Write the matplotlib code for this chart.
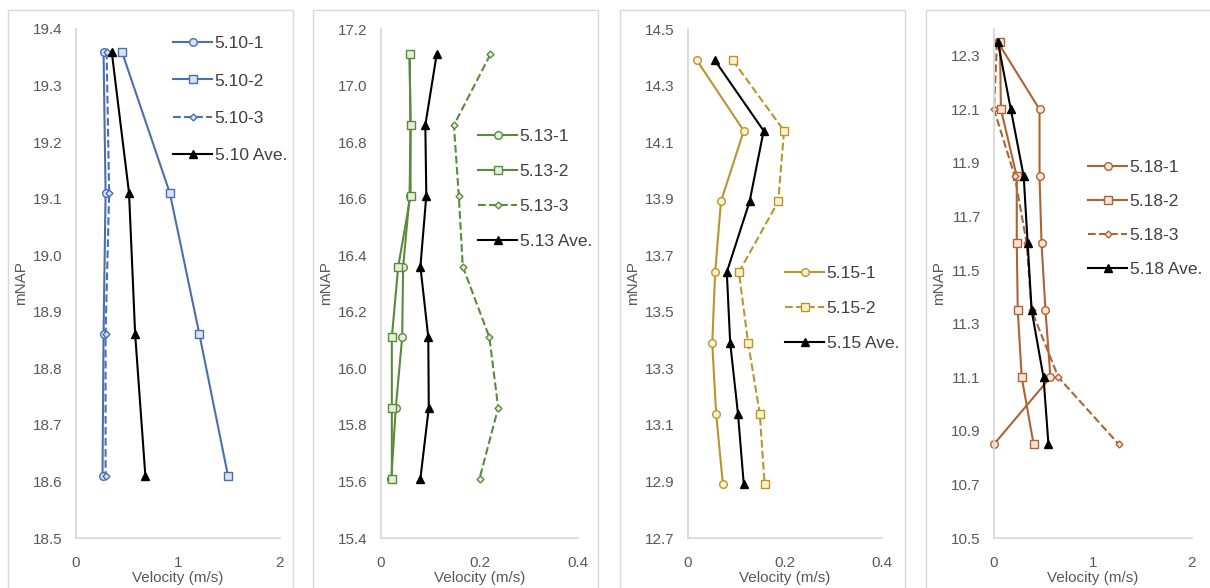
import numpy as np
import matplotlib.pyplot as plt
from matplotlib.patches import Rectangle

plt.rcParams['font.family'] = ['Liberation Sans', 'DejaVu Sans']

# depth levels (mNAP) for each section
y_510 = [19.36, 19.11, 18.86, 18.61]
y_513 = [17.11, 16.86, 16.61, 16.36, 16.11, 15.86, 15.61]
y_515 = [14.39, 14.14, 13.89, 13.64, 13.39, 13.14, 12.89]
y_518 = [12.35, 12.10, 11.85, 11.60, 11.35, 11.10, 10.85]

# velocities (m/s)
v_510_1 = [0.27, 0.29, 0.27, 0.26]
v_510_2 = [0.45, 0.92, 1.21, 1.49]
v_510_3 = [0.30, 0.325, 0.29, 0.29]
v_510_ave = [0.35, 0.52, 0.58, 0.68]

v_513_1 = [0.058, 0.060, 0.058, 0.045, 0.043, 0.030, 0.021]
v_513_2 = [0.058, 0.060, 0.060, 0.035, 0.022, 0.022, 0.022]
v_513_3 = [0.222, 0.148, 0.158, 0.166, 0.220, 0.238, 0.200]
v_513_ave = [0.113, 0.090, 0.092, 0.080, 0.096, 0.097, 0.080]

v_515_1 = [0.018, 0.115, 0.068, 0.056, 0.050, 0.058, 0.072]
v_515_2 = [0.092, 0.198, 0.186, 0.105, 0.124, 0.148, 0.158]
v_515_ave = [0.055, 0.156, 0.127, 0.080, 0.087, 0.103, 0.115]

v_518_1 = [0.04, 0.46, 0.46, 0.48, 0.52, 0.57, 0.0]
v_518_2 = [0.06, 0.07, 0.23, 0.23, 0.24, 0.28, 0.40]
v_518_3 = [0.03, 0.0, 0.21, 0.33, 0.38, 0.65, 1.26]
v_518_ave = [0.04, 0.17, 0.30, 0.34, 0.38, 0.50, 0.55]

W, H = 1210, 588
fig = plt.figure(figsize=(W / 100, H / 100), dpi=100)

TXT = '#595959'
GRID = '#d9d9d9'


def px_axes(l, t, r, b):
    return fig.add_axes([l / W, 1 - b / H, (r - l) / W, (b - t) / H])


def frame(l, r):
    fig.patches.append(Rectangle((l / W, -0.01), (r - l) / W, 1 - 10 / H + 0.01,
                                 transform=fig.transFigure, fill=False,
                                 edgecolor=GRID, lw=1.0))


def style(ax, xlim, xticks, xfmt, ylim, yticks):
    ax.set_xlim(*xlim)
    ax.set_ylim(*ylim)
    ax.set_xticks(xticks)
    ax.set_xticklabels([xfmt(v) for v in xticks])
    ax.set_yticks(yticks)
    ax.set_yticklabels(['%.1f' % v for v in yticks])
    for s in ['top', 'right']:
        ax.spines[s].set_visible(False)
    for s in ['left', 'bottom']:
        ax.spines[s].set_color(GRID)
        ax.spines[s].set_linewidth(1.3)
    ax.tick_params(length=0, labelsize=11, colors=TXT)
    ax.tick_params(axis='x', pad=13)
    ax.tick_params(axis='y', pad=9.5)
    ax.set_xlabel('Velocity (m/s)', fontsize=11, color=TXT, labelpad=1)
    ax.set_ylabel('mNAP', fontsize=11, color=TXT, labelpad=4)
    ax.patch.set_alpha(0)


def series(ax, x, y, color, face, marker, ms, ls, label):
    ax.plot(x, y, ls, color=color, lw=1.5, marker=marker, ms=ms,
            mfc=face, mec=color, mew=1.0, label=label, clip_on=False)


def legend(ax, left, top, spacing):
    ax.legend(loc='upper left', bbox_to_anchor=(left / W, 1 - top / H),
              bbox_transform=fig.transFigure, frameon=False, fontsize=12.5,
              handlelength=2.25, handletextpad=0.15, labelspacing=spacing,
              labelcolor='#404040', borderaxespad=0, borderpad=0)


fmt_int = lambda v: '%d' % v
fmt_01 = lambda v: '0' if v == 0 else '%.1f' % v

# ---- 5.10
blue, blue_f = '#4a6fae', '#dae3f3'
frame(8, 293)
ax1 = px_axes(76, 29, 280, 538)
series(ax1, v_510_1, y_510, blue, blue_f, 'o', 5.5, '-', '5.10-1')
series(ax1, v_510_2, y_510, blue, blue_f, 's', 5.5, '-', '5.10-2')
series(ax1, v_510_3, y_510, blue, blue_f, 'D', 3.5, '--', '5.10-3')
series(ax1, v_510_ave, y_510, 'black', 'black', '^', 5.5, '-', '5.10 Ave.')
style(ax1, (0, 2), [0, 1, 2], fmt_int, (18.5, 19.4), np.arange(18.5, 19.45, 0.1))
legend(ax1, 173, 36, 1.28)

# ---- 5.13
green, green_f = '#5b8a3c', '#e2efd9'
frame(313, 598)
ax2 = px_axes(381, 29, 578, 538)
series(ax2, v_513_1, y_513, green, green_f, 'o', 5.5, '-', '5.13-1')
series(ax2, v_513_2, y_513, green, green_f, 's', 5.5, '-', '5.13-2')
series(ax2, v_513_3, y_513, green, green_f, 'D', 3.5, '--', '5.13-3')
series(ax2, v_513_ave, y_513, 'black', 'black', '^', 5.5, '-', '5.13 Ave.')
style(ax2, (0, 0.4), [0, 0.2, 0.4], fmt_01, (15.4, 17.2), np.arange(15.4, 17.25, 0.2))
legend(ax2, 478, 129, 1.14)

# ---- 5.15
gold, gold_f = '#b8952f', '#fff2cc'
frame(620, 905)
ax3 = px_axes(688, 29, 882, 538)
series(ax3, v_515_1, y_515, gold, gold_f, 'o', 5.5, '-', '5.15-1')
series(ax3, v_515_2, y_515, gold, gold_f, 's', 5.5, '--', '5.15-2')
series(ax3, v_515_ave, y_515, 'black', 'black', '^', 5.5, '-', '5.15 Ave.')
style(ax3, (0, 0.4), [0, 0.2, 0.4], fmt_01, (12.7, 14.5), np.arange(12.7, 14.55, 0.2))
legend(ax3, 785, 266, 1.15)

# ---- 5.18
brown, brown_f = '#ad6434', '#fbe5d6'
frame(926, 1215)
ax4 = px_axes(994, 29, 1192, 538)
series(ax4, v_518_1, y_518, brown, brown_f, 'o', 5.5, '-', '5.18-1')
series(ax4, v_518_2, y_518, brown, brown_f, 's', 5.5, '-', '5.18-2')
series(ax4, v_518_3, y_518, brown, brown_f, 'D', 3.5, '--', '5.18-3')
series(ax4, v_518_ave, y_518, 'black', 'black', '^', 5.5, '-', '5.18 Ave.')
style(ax4, (0, 2), [0, 1, 2], fmt_int, (10.5, 12.4), np.arange(10.5, 12.35, 0.2))
legend(ax4, 1088, 160, 1.08)

fig.savefig('out.png', dpi=100)
